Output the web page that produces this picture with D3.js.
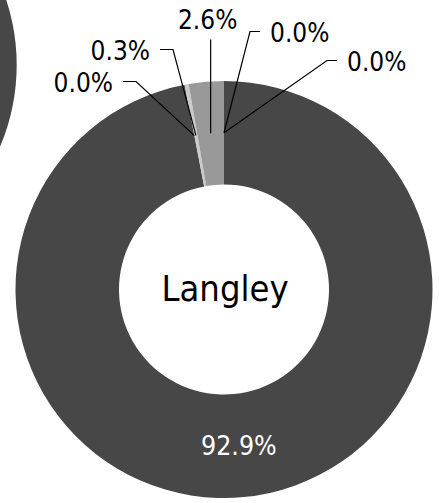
<!DOCTYPE html>
<html lang="en">
<head>
    <meta charset="utf-8">
    <title>Langley donut</title>
    <script src="https://d3js.org/d3.v7.min.js"></script>
    <style>
        body { margin: 0; background: #fff; }
        text { font-family: "DejaVu Sans Condensed", "DejaVu Sans", sans-serif; font-stretch: condensed; }
    </style>
</head>
<body>

<script>
    // slice order as the chart draws it, clockwise from 12 o'clock
    const categories = ['Cat 1', 'Cat 2', 'Cat 3', 'Cat 4', 'Cat 5', 'Cat 6'];
    const shares = [0.0, 0.0, 92.9, 0.0, 0.3, 2.6];
    const sliceColors = ['#c8c8c8', '#7f7f7f', '#474747', '#d9d9d9', '#cbcbcb', '#999999'];
    const centreName = 'Langley';
    // the neighbouring donut only shows a bit of its dark ring
    const neighbourShares = [100];

    const width = 439, height = 503;
    const cx = 224, cy = 289.5;
    const outerR = 208.5, innerR = 105;

    // where each outside label's leader line bends (offsets from the centre)
    const knees = [
        {dx: 26, dy: -258, side: 'right'},
        {dx: 103, dy: -229, side: 'right'},
        null,
        {dx: -88, dy: -208, side: 'left'},
        {dx: -51, dy: -240, side: 'left'},
        {dx: -13, dy: -250, side: 'top'}
    ];

    const fmt = d => d3.format('.1f')(d) + '%';

    const svg = d3.select('body').append('svg')
            .attr('width', width)
            .attr('height', height);

    const pie = d3.pie().sort(null).value(d => d);
    const arc = d3.arc().innerRadius(innerR).outerRadius(outerR);

    // neighbour chart, cut off at the left edge
    svg.append('g')
            .attr('transform', 'translate(' + (-191.8) + ',65)')
            .selectAll('path')
            .data(pie(neighbourShares)).enter()
            .append('path')
            .attr('d', arc)
            .style('fill', '#474747');

    const g = svg.append('g').attr('transform', 'translate(' + cx + ',' + cy + ')');
    const arcs = pie(shares);

    g.selectAll('path.slice')
            .data(arcs).enter()
            .append('path')
            .attr('class', 'slice')
            .attr('d', arc)
            .style('fill', (d, i) => sliceColors[i]);

    // the big slice gets its label inside the ring
    const big = arcs[2];
    g.append('text')
            .attr('x', arc.centroid(big)[0])
            .attr('y', arc.centroid(big)[1])
            .attr('text-anchor', 'middle')
            .attr('dominant-baseline', 'central')
            .style('font-size', '26.5px')
            .style('fill', '#fff')
            .text(fmt(big.value));

    // small slices: leader lines to outside labels
    arcs.forEach((d, i) => {
        const k = knees[i];
        if (!k) return;
        const c = arc.centroid(d);
        let pts, tx, ty, anchor;
        if (k.side === 'top') {
            pts = [c, [c[0], k.dy]];
            tx = c[0] - 3; ty = k.dy - 11; anchor = 'middle';
        } else if (k.side === 'left') {
            pts = [c, [k.dx, k.dy], [k.dx - 13, k.dy]];
            tx = k.dx - 23; ty = k.dy + 10; anchor = 'end';
        } else {
            pts = [c, [k.dx, k.dy], [k.dx + 10, k.dy]];
            tx = k.dx + 20; ty = k.dy + 10; anchor = 'start';
        }
        g.append('path')
                .attr('d', d3.line()(pts))
                .style('fill', 'none')
                .style('stroke', '#000')
                .style('stroke-width', 1.2);
        g.append('text')
                .attr('x', tx)
                .attr('y', ty)
                .attr('text-anchor', anchor)
                .style('font-size', '26px')
                .style('fill', '#000')
                .text(fmt(d.value));
    });

    g.append('text')
            .attr('x', 1)
            .attr('y', 11)
            .attr('text-anchor', 'middle')
            .style('font-size', '36px')
            .style('fill', '#000')
            .text(centreName);
</script>

</body>
</html>
